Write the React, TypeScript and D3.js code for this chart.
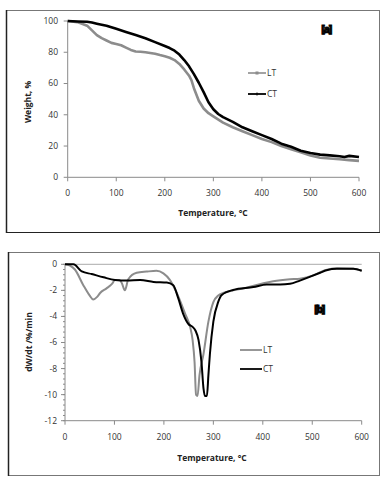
import React from "react";
import * as d3 from "d3";

const tgTemps = [0, 20, 40, 50, 60, 70, 80, 90, 100, 110, 120, 130, 140, 150, 160, 170, 180, 190, 200, 210, 220, 230, 240, 250, 255, 260, 265, 270, 280, 290, 300, 320, 340, 360, 380, 400, 420, 440, 460, 480, 500, 520, 540, 560, 580, 600];
const tgLT = [100, 99.3, 97, 94, 91, 89, 87.5, 86, 85.3, 84.5, 83, 81.5, 80.5, 80.3, 80, 79.5, 79, 78.2, 77.5, 76.5, 75, 72.5, 69, 65, 62, 57, 53, 49, 44, 41, 39, 35, 32, 29.5, 27, 24.5, 22.5, 20, 18, 16, 14, 12.5, 12, 11.5, 11, 10.5];
const tgCTTemps = [0, 20, 40, 50, 60, 80, 100, 120, 140, 160, 180, 200, 210, 220, 230, 240, 250, 260, 270, 280, 290, 300, 310, 320, 340, 360, 380, 400, 420, 440, 460, 480, 500, 520, 540, 560, 570, 580, 600];
const tgCT = [100, 99.7, 99.5, 99, 98.3, 97, 95, 93, 91, 89, 86.5, 84, 82.7, 81, 78.5, 75, 71, 66, 60.5, 54.5, 48, 43.5, 40.5, 38.5, 35.5, 32, 29.5, 27, 24.5, 21.5, 19.5, 17, 15.5, 14.5, 14, 13.5, 13, 13.7, 13];

const dtgLTTemps = [0, 10, 20, 37, 50, 57, 65, 71, 84, 95, 101, 110, 115, 121, 128, 145, 165, 185, 199, 212, 226, 243, 253, 258, 262, 265, 268, 272, 280, 290, 300, 310, 320, 340, 367, 401, 421, 455, 475, 502, 526, 550, 583, 600];
const dtgLT = [0, -0.1, -0.4, -1.6, -2.4, -2.7, -2.5, -2.2, -1.85, -1.5, -1.2, -1.2, -1.45, -2.0, -1.15, -0.65, -0.56, -0.5, -0.7, -1.2, -2.2, -3.8, -4.8, -5.8, -7.5, -10, -10.1, -8.5, -6.9, -4.4, -2.9, -2.4, -2.2, -2.0, -1.8, -1.45, -1.3, -1.15, -1.1, -0.85, -0.45, -0.3, -0.35, -0.5];
const dtgCTTemps = [0, 17, 34, 54, 78, 101, 125, 152, 179, 206, 219, 229, 239, 250, 258, 264, 270, 276, 280, 283, 287, 290, 293, 300, 310, 317, 340, 381, 408, 435, 455, 475, 496, 516, 529, 550, 583, 600];
const dtgCT = [0, 0, -0.55, -0.75, -1.0, -1.2, -1.25, -1.2, -1.35, -1.4, -1.6, -2.6, -3.8, -4.6, -4.8, -5.1, -5.8, -7.5, -9.5, -10.1, -10.1, -8.5, -6.9, -4.4, -2.87, -2.36, -1.97, -1.75, -1.55, -1.55, -1.5, -1.25, -0.95, -0.65, -0.45, -0.35, -0.35, -0.5];

const xTicks = [0, 100, 200, 300, 400, 500, 600];
const tgYTicks = [0, 20, 40, 60, 80, 100];
const dtgYTicks = [0, -2, -4, -6, -8, -10, -12];

const FONT = "'Open Sans', 'Noto Sans', sans-serif";
const GRAY = "#8c8c8c";
const AXIS = "#8a8a8a";

function zip(xs: number[], ys: number[]) {
  return xs.map((x, i) => [x, ys[i]] as [number, number]);
}

export default function App() {
  const x1 = d3.scaleLinear().domain([0, 600]).range([67.7, 359]);
  const y1 = d3.scaleLinear().domain([0, 100]).range([177.3, 21]);
  const line1 = d3.line<[number, number]>().x((d) => x1(d[0])).y((d) => y1(d[1]));

  const x2 = d3.scaleLinear().domain([0, 600]).range([65, 361.7]);
  const y2 = d3.scaleLinear().domain([-12, 0]).range([420.7, 264.3]);
  const line2 = d3.line<[number, number]>().x((d) => x2(d[0])).y((d) => y2(d[1])).curve(d3.curveMonotoneX);

  const minor2 = d3.range(0, -12.001, -0.4);

  return (
    <svg width={385} height={479} style={{ position: "absolute", left: 0, top: 0, background: "#fff" }} fontFamily={FONT}>
      <rect x={6.5} y={10.5} width={373} height={222} fill="none" stroke="#777" strokeWidth={1} />
      <line x1={6.5} x2={6.5} y1={10} y2={233} stroke="#222" strokeWidth={1.5} />
      <line x1={6} x2={380} y1={232.5} y2={232.5} stroke="#222" strokeWidth={1.2} />
      <rect x={8.5} y={252.5} width={371} height={223} fill="none" stroke="#777" strokeWidth={1} />
      <line x1={8.5} x2={8.5} y1={252} y2={476} stroke="#222" strokeWidth={1.5} />

      {/* top chart */}
      <line x1={x1(0)} x2={x1(0)} y1={y1(100)} y2={y1(0)} stroke={AXIS} />
      <line x1={x1(0)} x2={x1(600)} y1={y1(0)} y2={y1(0)} stroke={AXIS} />
      {tgYTicks.map((t) => (
        <g key={"ty" + t}>
          <line x1={x1(0) - 4} x2={x1(0)} y1={y1(t)} y2={y1(t)} stroke={AXIS} />
          <text x={58} y={y1(t)} dy="0.35em" textAnchor="end" fontSize={8.5} fill="#333">{t}</text>
        </g>
      ))}
      {xTicks.map((t) => (
        <g key={"tx" + t}>
          <line x1={x1(t)} x2={x1(t)} y1={y1(0)} y2={y1(0) + 4} stroke={AXIS} />
          <text x={x1(t)} y={193} dy="0.35em" textAnchor="middle" fontSize={8.5} fill="#333">{t}</text>
        </g>
      ))}
      <text x={213} y={213} dy="0.35em" textAnchor="middle" fontSize={8.5} fontWeight="bold" fill="#222">Temperature, °C</text>
      <text transform={`translate(28,102) rotate(-90)`} dy="0.35em" textAnchor="middle" fontSize={8.5} fontWeight="bold" fill="#222">Weight, %</text>

      <path d={line1(zip(tgTemps, tgLT)) || ""} fill="none" stroke={GRAY} strokeWidth={2.6} strokeLinejoin="round" />
      <path d={line1(zip(tgCTTemps, tgCT)) || ""} fill="none" stroke="#000" strokeWidth={2.6} strokeLinejoin="round" />

      <line x1={248} x2={266} y1={73} y2={73} stroke={GRAY} strokeWidth={1.6} />
      <rect x={255.5} y={71.5} width={3} height={3} fill={GRAY} />
      <text x={267} y={73} dy="0.35em" fontSize={8.5} fill="#333">LT</text>
      <line x1={248} x2={266} y1={94} y2={94} stroke="#000" strokeWidth={1.8} />
      <line x1={257} x2={257} y1={92.5} y2={95.5} stroke="#000" strokeWidth={1} />
      <text x={267} y={94} dy="0.35em" fontSize={8.5} fill="#333">CT</text>
      <text x={326} y={29} dy="0.35em" textAnchor="middle" fontSize={11} fontWeight={900} fill="#000" stroke="#000" strokeWidth={0.8} letterSpacing={-1.5}>[a]</text>

      {/* bottom chart */}
      <line x1={x2(0)} x2={x2(0)} y1={y2(0)} y2={y2(-12)} stroke={AXIS} />
      <line x1={x2(0)} x2={x2(600)} y1={y2(-12)} y2={y2(-12)} stroke={AXIS} />
      <line x1={x2(0)} x2={x2(600)} y1={y2(0)} y2={y2(0)} stroke="#aaa" />
      {minor2.map((t, i) => (
        <line key={"m" + i} x1={x2(0) - 2} x2={x2(0)} y1={y2(t)} y2={y2(t)} stroke={AXIS} />
      ))}
      {dtgYTicks.map((t) => (
        <g key={"by" + t}>
          <line x1={x2(0) - 4} x2={x2(0)} y1={y2(t)} y2={y2(t)} stroke={AXIS} />
          <text x={57} y={y2(t)} dy="0.35em" textAnchor="end" fontSize={8.5} fill="#333">{t}</text>
        </g>
      ))}
      {xTicks.map((t) => (
        <g key={"bx" + t}>
          <line x1={x2(t)} x2={x2(t)} y1={y2(-12)} y2={y2(-12) + 4} stroke={AXIS} />
          <text x={x2(t)} y={436.7} dy="0.35em" textAnchor="middle" fontSize={8.5} fill="#333">{t}</text>
        </g>
      ))}
      <text x={212} y={458} dy="0.35em" textAnchor="middle" fontSize={8.5} fontWeight="bold" fill="#222">Temperature, °C</text>
      <text transform={`translate(29,342) rotate(-90)`} dy="0.35em" textAnchor="middle" fontSize={8.5} fontWeight="bold" fill="#222">dW/dt /%/min</text>

      <path d={line2(zip(dtgLTTemps, dtgLT)) || ""} fill="none" stroke={GRAY} strokeWidth={2} strokeLinejoin="round" />
      <path d={line2(zip(dtgCTTemps, dtgCT)) || ""} fill="none" stroke="#000" strokeWidth={2} strokeLinejoin="round" />

      <line x1={240} x2={262} y1={350} y2={350} stroke={GRAY} strokeWidth={1.8} />
      <text x={263} y={350} dy="0.35em" fontSize={8.5} fill="#333">LT</text>
      <line x1={240} x2={262} y1={369} y2={369} stroke="#000" strokeWidth={1.8} />
      <text x={263} y={369} dy="0.35em" fontSize={8.5} fill="#333">CT</text>
      <text x={319} y={309} dy="0.35em" textAnchor="middle" fontSize={11} fontWeight={900} fill="#000" stroke="#000" strokeWidth={0.8} letterSpacing={-1.5}>[b]</text>
    </svg>
  );
}
